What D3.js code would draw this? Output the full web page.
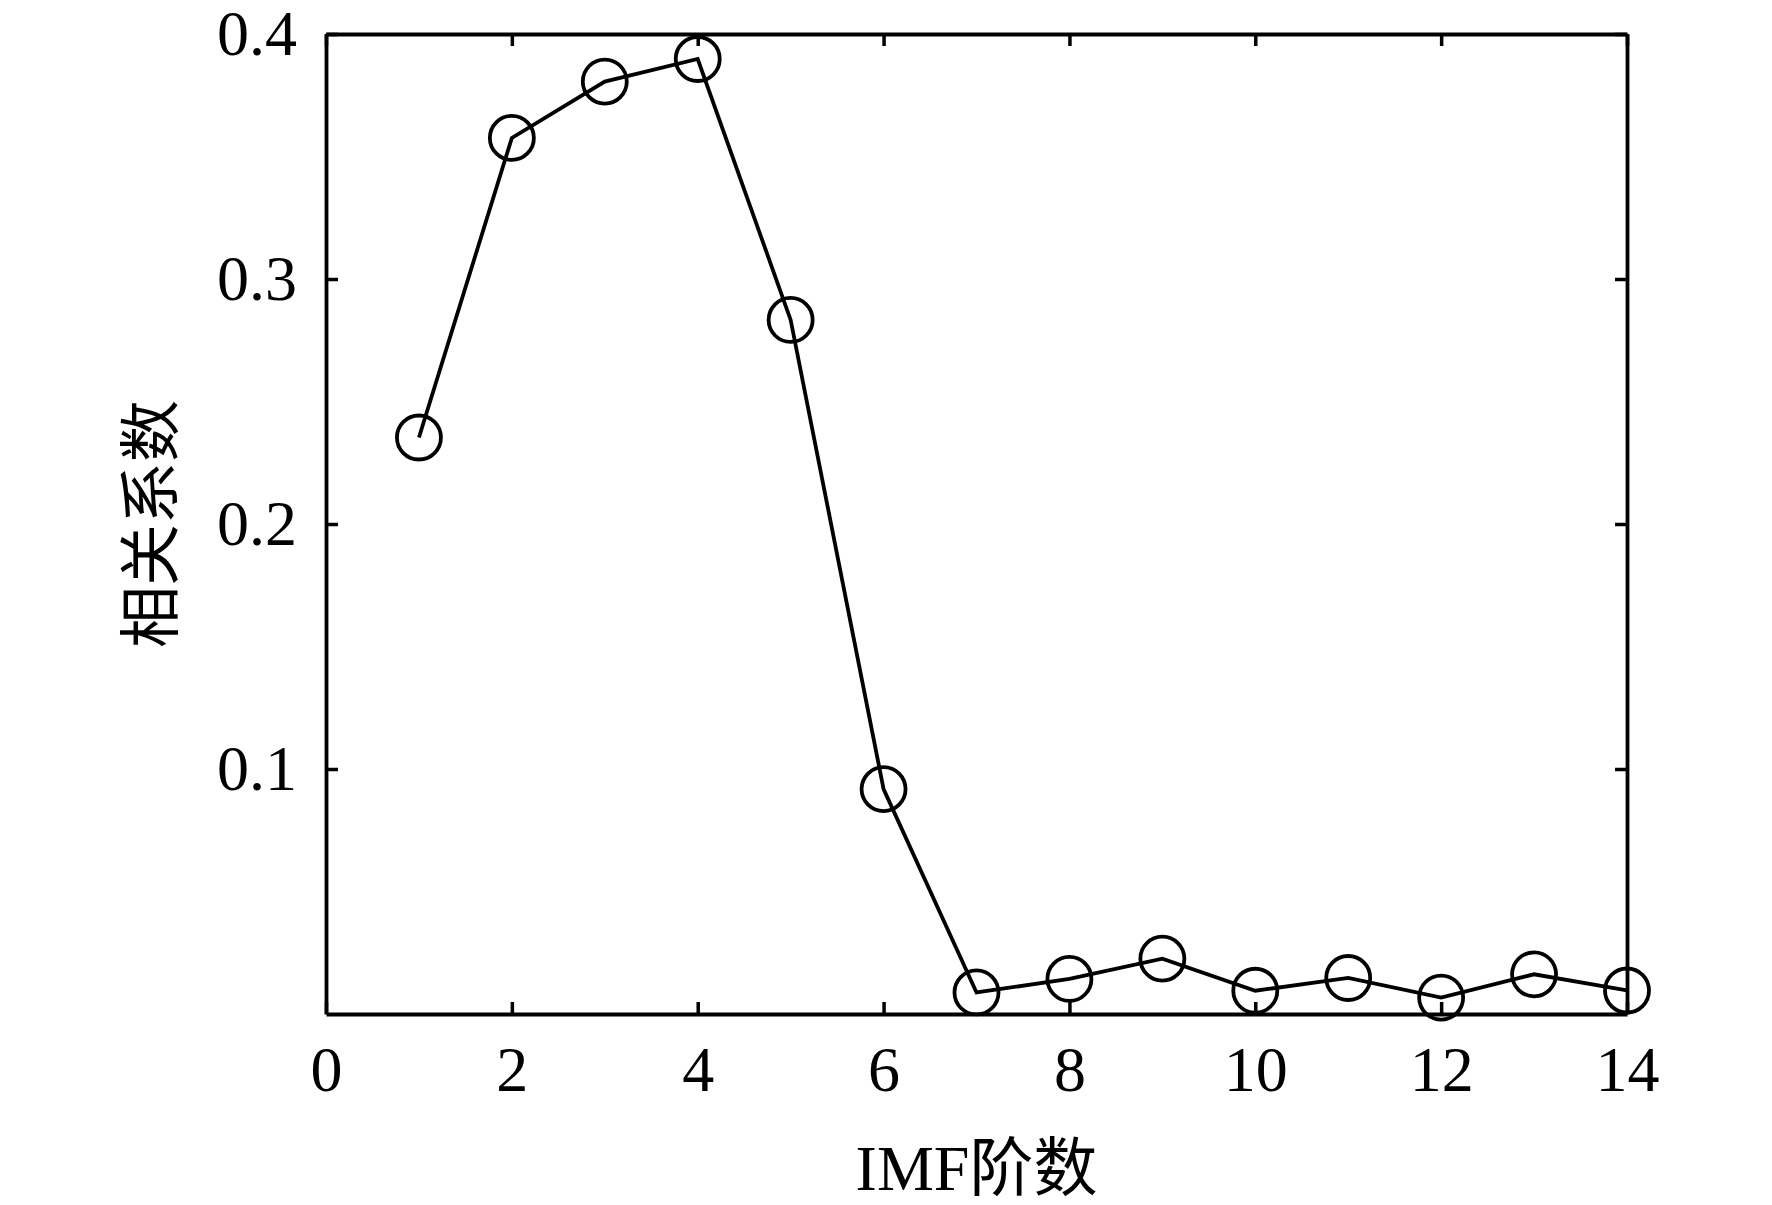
<!DOCTYPE html>
<html>
<head>
<meta charset="utf-8">
<script src="https://cdn.jsdelivr.net/npm/d3@7"></script>
<style>
  body { margin: 0; background: #fff; }
</style>
</head>
<body>
<div id="chart"></div>
<script>
  // IMF order vs correlation coefficient
  const imfOrder = [1, 2, 3, 4, 5, 6, 7, 8, 9, 10, 11, 12, 13, 14];
  const corrValues = [0.2353, 0.3576, 0.3806, 0.3898, 0.2833, 0.0918, 0.0088,
                      0.0143, 0.0226, 0.0095, 0.0147, 0.0067, 0.0162, 0.0096];
  const xTicks = [0, 2, 4, 6, 8, 10, 12, 14];
  const yTicks = [0.1, 0.2, 0.3, 0.4];
  const xTitle = "IMF阶数";
  const yTitle = "相关系数";

  const width = 1772;
  const height = 1205;
  const margin = { top: 34, right: 145, bottom: 191, left: 326 };
  const font = "'Liberation Serif', 'Times New Roman', 'Noto Sans CJK SC', serif";

  const svg = d3.select("#chart")
    .append("svg")
    .attr("width", width)
    .attr("height", height)
    .style("display", "block");

  const x = d3.scaleLinear()
    .domain([0, 14])
    .range([margin.left, width - margin.right]);

  const y = d3.scaleLinear()
    .domain([0, 0.4])
    .range([height - margin.bottom, margin.top]);

  function styleAxis(g) {
    g.attr("font-family", font).attr("font-size", 64);
    g.select(".domain").attr("stroke", "#000").attr("stroke-width", 3.8);
    g.selectAll(".tick line").attr("stroke", "#000").attr("stroke-width", 3.5);
    g.selectAll(".tick text").attr("fill", "#000");
  }

  // bottom and left axes with labels
  svg.append("g")
    .attr("transform", `translate(0,${y(0)})`)
    .call(d3.axisBottom(x).tickValues(xTicks).tickFormat(d3.format("d"))
      .tickSize(-12).tickSizeOuter(0).tickPadding(32))
    .call(styleAxis);

  svg.append("g")
    .attr("transform", `translate(${x(0)},0)`)
    .call(d3.axisLeft(y).tickValues(yTicks).tickFormat(d3.format(".1f"))
      .tickSize(-12).tickSizeOuter(0).tickPadding(29))
    .call(styleAxis);

  // top and right mirror axes, no labels
  svg.append("g")
    .attr("transform", `translate(0,${y(0.4)})`)
    .call(d3.axisTop(x).tickValues(xTicks).tickFormat("")
      .tickSize(-12).tickSizeOuter(0))
    .call(styleAxis);

  svg.append("g")
    .attr("transform", `translate(${x(14)},0)`)
    .call(d3.axisRight(y).tickValues(yTicks).tickFormat("")
      .tickSize(-12).tickSizeOuter(0))
    .call(styleAxis);

  const pts = imfOrder.map((d, i) => ({ k: d, v: corrValues[i] }));

  const line = d3.line()
    .x(d => x(d.k))
    .y(d => y(d.v));

  svg.append("path")
    .datum(pts)
    .attr("fill", "none")
    .attr("stroke", "#000")
    .attr("stroke-width", 3.8)
    .attr("stroke-linejoin", "miter")
    .attr("d", line);

  svg.append("g")
    .selectAll("circle")
    .data(pts)
    .join("circle")
      .attr("cx", d => x(d.k))
      .attr("cy", d => y(d.v))
      .attr("r", 22)
      .attr("fill", "none")
      .attr("stroke", "#000")
      .attr("stroke-width", 3.8);

  svg.append("text")
    .attr("text-anchor", "middle")
    .attr("font-family", font)
    .attr("font-size", 64)
    .attr("x", (x(0) + x(14)) / 2)
    .attr("y", 1190)
    .text(xTitle);

  svg.append("text")
    .attr("text-anchor", "middle")
    .attr("font-family", font)
    .attr("font-size", 62)
    .attr("transform", `translate(173,${(y(0) + y(0.4)) / 2}) rotate(-90)`)
    .text(yTitle);
</script>
</body>
</html>
